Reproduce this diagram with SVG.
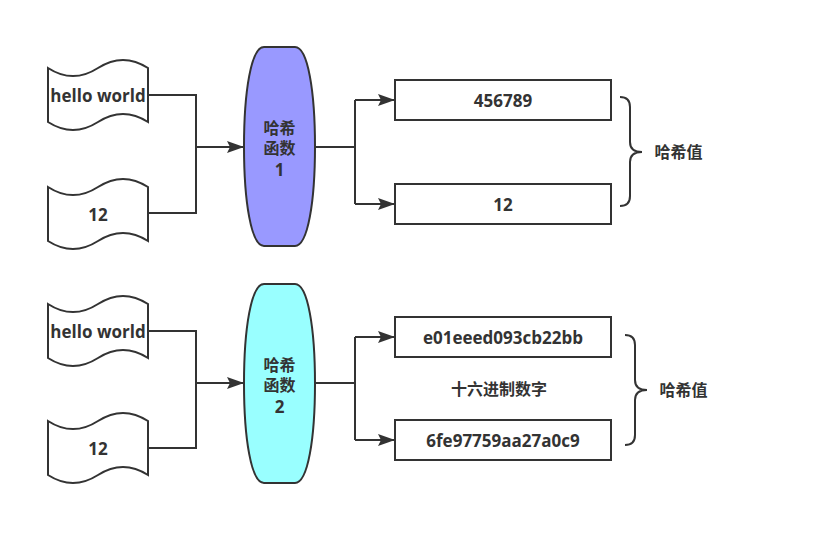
<svg xmlns="http://www.w3.org/2000/svg" width="825" height="545" viewBox="0 0 825 545">
<style>
.s{stroke:#333333;stroke-width:2;fill:#ffffff}
.c{stroke:#333333;stroke-width:2;fill:none}
.t{font-family:"Open Sans","Noto Sans CJK SC",sans-serif;font-weight:bold;font-size:17px;fill:#333333;text-anchor:middle;dominant-baseline:central}
.z{font-size:16px}
</style>
<defs>
<marker id="a" markerUnits="userSpaceOnUse" markerWidth="18" markerHeight="12" refX="17" refY="6" orient="auto">
<path d="M0,0 L17,6 L0,12 L3,6 Z" fill="#333333"/>
</marker>
<path id="tape" d="M0,9 Q25,25.2 50,9 Q75,-7.2 100,9 L100,63 Q75,47 50,63 Q25,79 0,63 Z"/>
<path id="lens" d="M264,0 H295 C308,0 315,45 315,99.5 C315,154 308,199 295,199 H264 C251,199 244,154 244,99.5 C244,45 251,0 264,0 Z"/>
</defs>
<g id="connectors">
<path class="c" d="M148,95 H196 V213 H148"/>
<path class="c" d="M196,147 H244" marker-end="url(#a)"/>
<path class="c" d="M315,147 H355"/>
<path class="c" d="M355,100 V204"/>
<path class="c" d="M355,100 H395" marker-end="url(#a)"/>
<path class="c" d="M355,204 H395" marker-end="url(#a)"/>
<path class="c" d="M148,331 H196 V448 H148"/>
<path class="c" d="M196,383 H244" marker-end="url(#a)"/>
<path class="c" d="M315,383 H355"/>
<path class="c" d="M355,337 V440"/>
<path class="c" d="M355,337 H395" marker-end="url(#a)"/>
<path class="c" d="M355,440 H395" marker-end="url(#a)"/>
</g>
<g id="in1a"><use href="#tape" class="s" x="48" y="59"/><text class="t" x="98" y="95">hello world</text></g>
<g id="in1b"><use href="#tape" class="s" x="48" y="178"/><text class="t" x="98" y="214">12</text></g>
<g id="hash1"><use href="#lens" class="s" y="47" style="fill:#9999ff"/>
<text class="t z" x="279.5" y="128">哈希</text><text class="t z" x="279.5" y="148">函数</text><text class="t" x="279.5" y="169">1</text></g>
<g id="out1a"><rect class="s" x="395" y="80" width="216" height="40"/><text class="t" x="503" y="100">456789</text></g>
<g id="out1b"><rect class="s" x="395" y="184" width="216" height="40"/><text class="t" x="503" y="204">12</text></g>
<g id="brace1"><path class="c" d="M620,97 Q630,97 630,107 L630,142 Q630,152 642,152 Q630,152 630,162 L630,196 Q630,206 620,206"/>
<text class="t z" x="678.5" y="152">哈希值</text></g>
<g id="in2a"><use href="#tape" class="s" x="48" y="295"/><text class="t" x="98" y="331">hello world</text></g>
<g id="in2b"><use href="#tape" class="s" x="48" y="412"/><text class="t" x="98" y="448">12</text></g>
<g id="hash2"><use href="#lens" class="s" y="284" style="fill:#99ffff"/>
<text class="t z" x="279.5" y="365">哈希</text><text class="t z" x="279.5" y="385">函数</text><text class="t" x="279.5" y="406">2</text></g>
<g id="out2a"><rect class="s" x="395" y="317" width="216" height="40"/><text class="t" x="503" y="337">e01eeed093cb22bb</text></g>
<g id="out2b"><rect class="s" x="395" y="420" width="216" height="40"/><text class="t" x="503" y="440">6fe97759aa27a0c9</text></g>
<g id="label2"><text class="t z" x="499" y="389">十六进制数字</text></g>
<g id="brace2"><path class="c" d="M625,335 Q635,335 635,345 L635,380 Q635,390 647,390 Q635,390 635,400 L635,435 Q635,445 625,445"/>
<text class="t z" x="683.5" y="390">哈希值</text></g>
</svg>
